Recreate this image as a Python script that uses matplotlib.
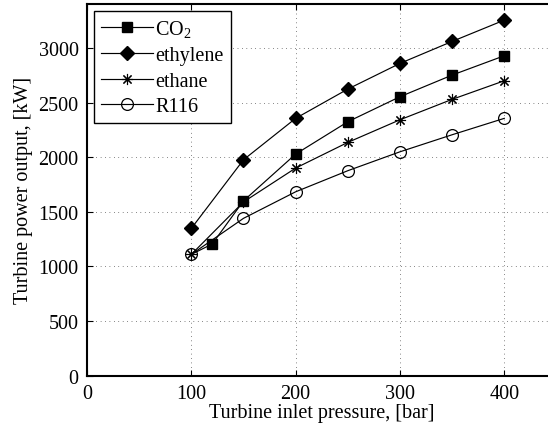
import matplotlib
matplotlib.use("Agg")
import matplotlib.pyplot as plt

pressure = [100, 150, 200, 250, 300, 350, 400]
pressure_co2 = [100, 120, 150, 200, 250, 300, 350, 400]
co2 = [1110, 1205, 1600, 2028, 2324, 2553, 2751, 2928]
ethylene = [1348, 1976, 2355, 2623, 2858, 3059, 3254]
ethane = [1110, 1590, 1900, 2135, 2342, 2529, 2699]
r116 = [1110, 1440, 1683, 1876, 2049, 2205, 2355]

xticks = [0, 100, 200, 300, 400]
yticks = [0, 500, 1000, 1500, 2000, 2500, 3000]

plt.rcParams['font.family'] = ['Liberation Serif', 'DejaVu Serif']
plt.rcParams['mathtext.fontset'] = 'custom'
plt.rcParams['mathtext.rm'] = 'Liberation Serif'

fig = plt.figure(figsize=(5.48, 4.31), dpi=100)
ax = fig.add_axes([0.1588, 0.126, 0.8566, 0.862])

lw = 0.85
ax.plot(pressure_co2, co2, '-', color='k', lw=lw, marker='s', ms=7.5,
        mfc='k', mec='k', markevery=list(range(1, len(co2))),
        label='CO$_2$', zorder=3)
ax.plot(pressure, ethylene, '-', color='k', lw=lw, marker='D', ms=7.5,
        mfc='k', mec='k', label='ethylene', zorder=3)
ax.plot(pressure, ethane, '-', color='k', lw=lw, marker=(8, 2, 0), ms=8,
        mfc='none', mec='k', mew=0.8, label='ethane', zorder=3)
ax.plot(pressure, r116, '-', color='k', lw=lw, marker='o', ms=8.5,
        mfc='none', mec='k', mew=0.9, label='R116', zorder=3)

ax.set_xlim(0, 450)
ax.set_ylim(0, 3400)
ax.set_xticks(xticks)
ax.set_yticks(yticks)
ax.tick_params(direction='in', length=4, width=0.8, labelsize=14.5,
               top=True, right=True, pad=6)
for s in ax.spines.values():
    s.set_linewidth(1.5)
ax.grid(True, color='k', linewidth=0.6, linestyle=(0, (0.8, 4.5)), alpha=0.8)
ax.set_axisbelow(True)

ax.set_xlabel('Turbine inlet pressure, [bar]', fontsize=14.5, labelpad=0)
ax.set_ylabel('Turbine power output, [kW]', fontsize=14.5, labelpad=4)

leg = ax.legend(loc='upper left', fontsize=14.5, frameon=True, fancybox=False,
                edgecolor='k', framealpha=1, handlelength=2.6,
                borderaxespad=0.35, borderpad=0.35, labelspacing=0.32,
                handletextpad=0.1)
leg.get_frame().set_linewidth(1.0)

fig.savefig('out.png', dpi=100)
